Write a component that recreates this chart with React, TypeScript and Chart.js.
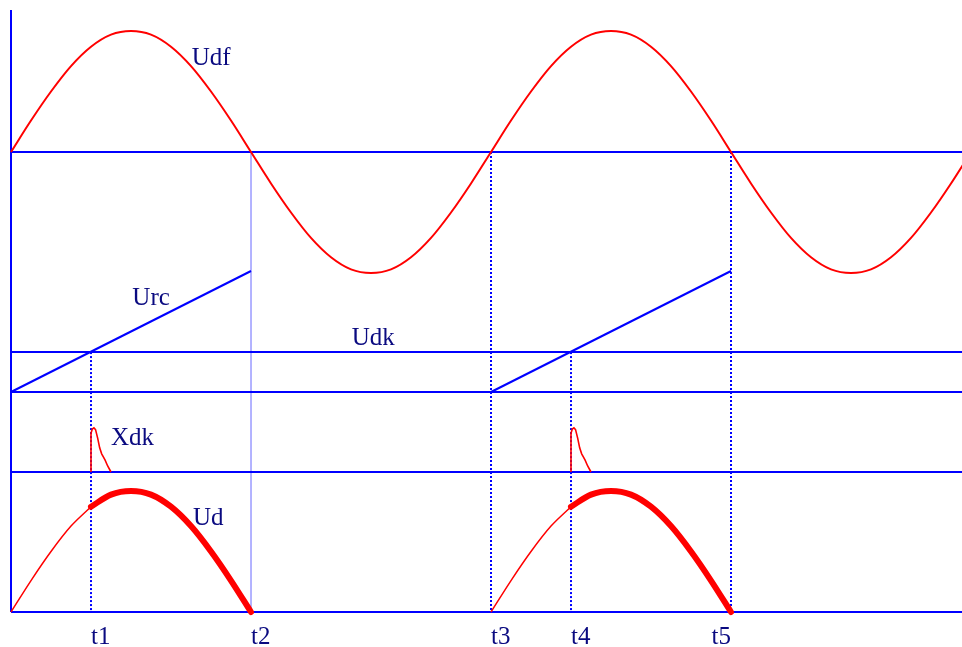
import React, { useEffect, useRef } from 'react';
import { Chart, registerables } from 'chart.js';

Chart.register(...registerables);

// ---- data (phase in electrical degrees) ----
const phaseDeg = [
  0, 15, 30, 45, 60, 75, 90, 105, 120, 135, 150, 165, 180, 195, 210, 225, 240, 255, 270, 285, 300, 315, 330, 345,
  360, 375, 390, 405, 420, 435, 450, 465, 480, 495, 510, 525, 540, 555, 570, 585, 600, 615, 630, 645, 660, 675, 690, 705, 720,
];
const udfValues = [
  0, 0.26, 0.5, 0.71, 0.87, 0.97, 1, 0.97, 0.87, 0.71, 0.5, 0.26, 0, -0.26, -0.5, -0.71, -0.87, -0.97, -1, -0.97, -0.87, -0.71, -0.5, -0.26,
  0, 0.26, 0.5, 0.71, 0.87, 0.97, 1, 0.97, 0.87, 0.71, 0.5, 0.26, 0, -0.26, -0.5, -0.71, -0.87, -0.97, -1, -0.97, -0.87, -0.71, -0.5, -0.26, 0,
];
const udPhase = [0, 15, 30, 45, 60, 75, 90, 105, 120, 135, 150, 165, 180];
const udValues = [0, 0.26, 0.5, 0.71, 0.87, 0.97, 1, 0.97, 0.87, 0.71, 0.5, 0.26, 0];
const cycleStarts = [0, 360];
const firingAngle = 60;
const urcPhase = [0, 180];
const urcValues = [0, 1];
const udkLevel = 0.33;
const xdkPhase = [0, 0, 1, 2.2, 3.4, 5, 6.5, 8, 10.5, 12.5, 15];
const xdkValues = [0, 0.32, 0.355, 0.365, 0.35, 0.28, 0.2, 0.15, 0.1, 0.05, 0];
const tTimes = [60, 180, 360, 420, 540];
const tLabels = ['t1', 't2', 't3', 't4', 't5'];

// ---- layout constants (units: signal amplitude = 1) ----
const AMP = 121;
const UDF_ZERO = 460;
const URC_BASE = 220;
const XDK_BASE = 140;
const UD_BASE = 0;
const X_MIN = -8.25;
const X_MAX = 713.25;
const Y_MIN = -35;
const Y_MAX = 612;

const BLUE = '#0000ff';
const RED = '#ff0000';
const NAVY = '#0a0a80';

const textPlugin = {
  id: 'diagramText',
  afterDatasetsDraw(chart: any) {
    const { ctx, scales } = chart;
    const xs = scales.x;
    const ys = scales.y;
    ctx.save();
    ctx.fillStyle = NAVY;
    ctx.font = '25px "Liberation Serif", "Times New Roman", serif';
    ctx.textBaseline = 'alphabetic';
    ctx.textAlign = 'left';
    const notes = [
      { text: 'Udf', x: 135.5, y: UDF_ZERO + 0.72 * AMP },
      { text: 'Urc', x: 91, y: URC_BASE + 0.72 * AMP },
      { text: 'Udk', x: 255.5, y: URC_BASE + udkLevel * AMP + 7 },
      { text: 'Xdk', x: 75, y: XDK_BASE + 0.22 * AMP },
      { text: 'Ud', x: 136.5, y: UD_BASE + 0.72 * AMP },
    ];
    notes.forEach((n) => ctx.fillText(n.text, xs.getPixelForValue(n.x), ys.getPixelForValue(n.y)));
    tTimes.forEach((t, i) => {
      const px = xs.getPixelForValue(t);
      const last = i === tTimes.length - 1;
      ctx.textAlign = last ? 'right' : 'left';
      ctx.fillText(tLabels[i], px + (last ? 0 : 0), ys.getPixelForValue(-32));
    });
    ctx.restore();
  },
};

export default function App() {
  const ref = useRef<HTMLCanvasElement | null>(null);
  useEffect(() => {
    if (!ref.current) return;
    const datasets: any[] = [];
    const base = { pointRadius: 0, tension: 0, fill: false, borderCapStyle: 'butt' };
    const smooth = { cubicInterpolationMode: 'monotone' };

    cycleStarts.forEach((c) => {
      const idx = udPhase.map((_, i) => i);
      const thickIdx = idx.filter((i) => udPhase[i] >= firingAngle);
      const thinIdx = idx.filter((i) => udPhase[i] <= firingAngle);
      // Ud conducting part (thick)
      datasets.push({
        ...base,
        ...smooth,
        data: thickIdx.map((i) => ({ x: c + udPhase[i], y: UD_BASE + udValues[i] * AMP })),
        borderColor: RED,
        borderWidth: 6,
        borderCapStyle: 'round',
      });
      // Ud before firing (thin)
      datasets.push({
        ...base,
        ...smooth,
        data: thinIdx.map((i) => ({ x: c + udPhase[i], y: UD_BASE + udValues[i] * AMP })),
        borderColor: RED,
        borderWidth: 1.5,
      });
      // Xdk pulse
      datasets.push({
        ...base,
        data: xdkPhase.map((p, i) => ({ x: c + firingAngle + p, y: XDK_BASE + xdkValues[i] * AMP })),
        borderColor: RED,
        borderWidth: 1.6,
      });
    });

    // Udf
    datasets.push({
      ...base,
      ...smooth,
      data: phaseDeg.map((p, i) => ({ x: p, y: UDF_ZERO + udfValues[i] * AMP })),
      borderColor: RED,
      borderWidth: 2,
    });

    // Urc ramps
    cycleStarts.forEach((c) => {
      datasets.push({
        ...base,
        data: urcPhase.map((p, i) => ({ x: c + p, y: URC_BASE + urcValues[i] * AMP })),
        borderColor: BLUE,
        borderWidth: 2,
      });
    });

    // horizontal reference lines
    [UDF_ZERO, URC_BASE + udkLevel * AMP, URC_BASE, XDK_BASE, UD_BASE].forEach((yv) => {
      datasets.push({
        ...base,
        data: [{ x: 0, y: yv }, { x: X_MAX + 10, y: yv }],
        borderColor: BLUE,
        borderWidth: 2,
      });
    });

    // left vertical axis
    datasets.push({
      ...base,
      data: [{ x: 0, y: UD_BASE }, { x: 0, y: 602 }],
      borderColor: BLUE,
      borderWidth: 2,
    });

    // vertical time markers
    const tops = [URC_BASE + udkLevel * AMP, UDF_ZERO, UDF_ZERO, URC_BASE + udkLevel * AMP, UDF_ZERO];
    tTimes.forEach((t, i) => {
      const isT2 = i === 1;
      datasets.push({
        ...base,
        data: [{ x: t, y: tops[i] }, { x: t, y: UD_BASE }],
        borderColor: isT2 ? '#a8a8ff' : BLUE,
        borderWidth: isT2 ? 1 : 2,
        borderDash: isT2 ? [] : [2, 2],
      });
    });

    const chart = new Chart(ref.current, {
      type: 'line',
      data: { datasets },
      options: {
        animation: false,
        responsive: false,
        events: [],
        layout: { padding: 0 },
        plugins: { legend: { display: false }, tooltip: { enabled: false } },
        scales: {
          x: { type: 'linear', min: X_MIN, max: X_MAX, display: false },
          y: { type: 'linear', min: Y_MIN, max: Y_MAX, display: false },
        },
      },
      plugins: [textPlugin],
    });
    return () => chart.destroy();
  }, []);

  return (
    <div style={{ position: 'fixed', left: 0, top: 0, width: 962, height: 647, background: '#ffffff' }}>
      <canvas ref={ref} width={962} height={647} style={{ display: 'block' }} />
    </div>
  );
}
